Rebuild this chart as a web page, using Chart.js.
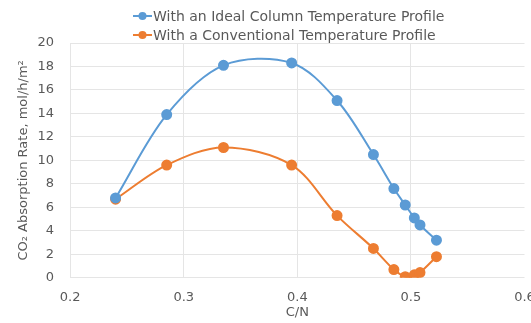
<!DOCTYPE html>
<html><head><meta charset="utf-8">
<script src="https://cdn.jsdelivr.net/npm/chart.js@4/dist/chart.umd.min.js"></script>
<style>html,body{margin:0;padding:0;background:#fff}#wrap{width:531px;height:323px}</style>
</head><body><div id="wrap"><canvas id="c" width="531" height="323"></canvas></div>
<script>
const cnValues = [0.24, 0.285, 0.335, 0.395, 0.435, 0.467, 0.485, 0.495, 0.503, 0.508, 0.5225];
const idealRates = [6.8, 13.9, 18.1, 18.3, 15.1, 10.5, 7.6, 6.2, 5.1, 4.5, 3.2];
const conventionalRates = [6.7, 9.6, 11.1, 9.6, 5.3, 2.5, 0.7, 0.1, 0.25, 0.45, 1.8];
const seriesNames = ["With an Ideal Column Temperature Profile", "With a Conventional Temperature Profile"];
const xTickLabels = ["0.2", "0.3", "0.4", "0.5", "0.6"];
const yTickLabels = ["0", "2", "4", "6", "8", "10", "12", "14", "16", "18", "20"];

const FONT = "'DejaVu Sans', sans-serif";
const TXT = '#595959';
const GRID = '#e5e5e5';

const legendPlugin = {
  id: 'topLegend',
  afterDraw(chart, args, opts) {
    const ctx = chart.ctx;
    chart.data.datasets.forEach((ds, i) => {
      const y = opts.top + i * opts.rowGap;
      const x0 = opts.left;
      ctx.save();
      ctx.strokeStyle = ds.borderColor; ctx.lineWidth = 2;
      ctx.beginPath(); ctx.moveTo(x0, y); ctx.lineTo(x0 + opts.lineLen, y); ctx.stroke();
      ctx.fillStyle = ds.borderColor;
      ctx.beginPath(); ctx.arc(x0 + opts.lineLen / 2, y, 4, 0, 2 * Math.PI); ctx.fill();
      ctx.fillStyle = TXT; ctx.font = opts.font; ctx.textBaseline = 'middle';
      ctx.fillText(ds.label, x0 + opts.lineLen + 1, y + 1);
      ctx.restore();
    });
  }
};

const mk = (ys) => cnValues.map((x, i) => ({x: x, y: ys[i]}));

new Chart(document.getElementById('c'), {
  type: 'line',
  data: {
    datasets: [
      {label: seriesNames[0], data: mk(idealRates), borderColor: '#5B9BD5', backgroundColor: '#5B9BD5',
       borderWidth: 2, pointRadius: 4.5, pointHoverRadius: 4.5, tension: 0.33, fill: false},
      {label: seriesNames[1], data: mk(conventionalRates), borderColor: '#ED7D31', backgroundColor: '#ED7D31',
       borderWidth: 2, pointRadius: 4.5, pointHoverRadius: 4.5, tension: 0.33, fill: false}
    ]
  },
  options: {
    responsive: false, animation: false,
    layout: {padding: {top: 43, left: 16, right: 0, bottom: 3}},
    plugins: {
      legend: {display: false}, tooltip: {enabled: false},
      topLegend: {left: 133, top: 16, rowGap: 19, lineLen: 19, font: "14px " + FONT}
    },
    scales: {
      x: {
        type: 'linear', min: 0.2, max: 0.6,
        afterFit: (s) => { s.paddingRight = 6; },
        afterBuildTicks: (s) => { s.ticks = xTickLabels.map(v => ({value: parseFloat(v)})); },
        ticks: {callback: (v, i) => xTickLabels[i], color: TXT, font: {family: FONT, size: 13}, padding: 12, maxRotation: 0},
        grid: {color: (c) => (c.index === xTickLabels.length - 1 ? 'rgba(0,0,0,0)' : GRID), drawTicks: false},
        border: {display: false},
        title: {display: true, text: 'C/N', color: TXT, font: {family: FONT, size: 13}, padding: {top: -13, bottom: 0}}
      },
      y: {
        min: 0, max: 20,
        afterBuildTicks: (s) => { s.ticks = yTickLabels.map(v => ({value: parseFloat(v)})); },
        ticks: {callback: (v, i) => yTickLabels[i], color: TXT, font: {family: FONT, size: 13}, padding: 16},
        grid: {color: GRID, drawTicks: false},
        border: {display: false},
        title: {display: true, text: 'CO₂ Absorption Rate, mol/h/m²', color: TXT, font: {family: FONT, size: 13}, padding: {top: 0, bottom: -10}}
      }
    }
  },
  plugins: [legendPlugin]
});
</script></body></html>
